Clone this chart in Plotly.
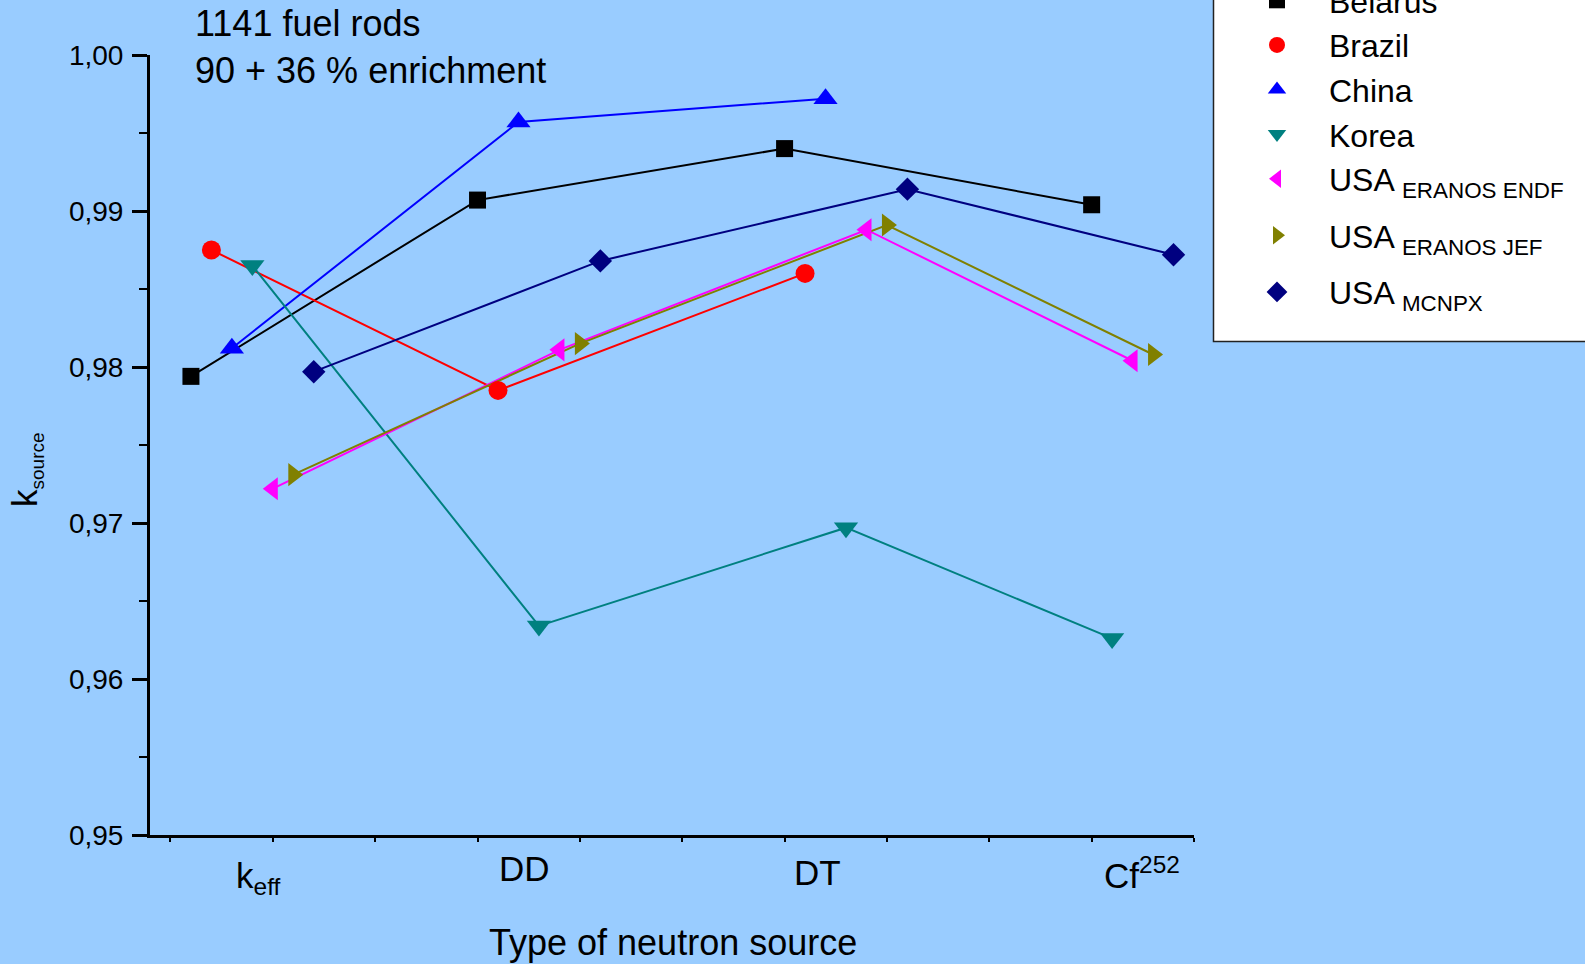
import plotly.graph_objects as go

# ---- data -------------------------------------------------------------
categories = ["keff", "DD", "DT", "Cf252"]
category_labels = ["k<sub>eff</sub>", "DD", "DT", "Cf<sup>252</sup>"]

series_names = [
    "Belarus",
    "Brazil",
    "China",
    "Korea",
    "USA <sub>ERANOS ENDF</sub>",
    "USA <sub>ERANOS JEF</sub>",
    "USA <sub>MCNPX</sub>",
]

belarus = [0.9794, 0.9907, 0.9940, 0.9904]
brazil = [0.9875, 0.9785, 0.9860, None]
china = [0.9812, 0.9957, 0.9972, None]
korea = [0.9865, 0.9634, 0.9697, 0.9626]
usa_eranos_endf = [0.9722, 0.9811, 0.9888, 0.9804]
usa_eranos_jef = [0.9731, 0.9815, 0.9891, 0.9808]
usa_mcnpx = [0.9797, 0.9868, 0.9914, 0.9872]

series_values = [belarus, brazil, china, korea,
                 usa_eranos_endf, usa_eranos_jef, usa_mcnpx]

y_ticks = [0.95, 0.96, 0.97, 0.98, 0.99, 1.00]

# ---- styling / layout ----------------------------------------------------
colors = ["#000000", "#FF0000", "#0000FF", "#008080",
          "#FF00FF", "#808000", "#000080"]
symbols = ["square", "circle", "triangle-up", "triangle-down",
           "triangle-left", "triangle-right", "diamond"]
sizes = [17, 19, 21, 21, 20, 20, 18]
legend_groups = ["a", "a", "a", "a", "a", "b", "c"]

group_start = [0.2, 3.0, 6.0, 9.0]   # x of the first point in each group
slot_step = 0.2                      # spacing between series inside a group
label_x = [0.86, 3.46, 6.32, 9.49]   # x of the category captions

FONT = "Liberation Sans, Arial, sans-serif"
BG = "#99CCFF"

W, H = 1585, 964
ML, MR, MT, MB = 150, 391, 55, 129
PW, PH = W - ML - MR, H - MT - MB


def px_x(px):
    return (px - ML) / PW


def px_y(px):
    return (H - MB - px) / PH


# x positions: series present in a category take consecutive slots
x_pos = [[None] * len(categories) for _ in series_values]
for c in range(len(categories)):
    slot = 0
    for s, vals in enumerate(series_values):
        if vals[c] is not None:
            x_pos[s][c] = group_start[c] + slot * slot_step
            slot += 1

fig = go.Figure()

for s, vals in enumerate(series_values):
    fig.add_trace(go.Scatter(
        x=x_pos[s], y=vals, mode="lines",
        line=dict(color=colors[s], width=2),
        showlegend=False, hoverinfo="skip",
    ))

for s, vals in enumerate(series_values):
    fig.add_trace(go.Scatter(
        x=x_pos[s], y=vals, mode="markers", name=series_names[s],
        legendgroup=legend_groups[s],
        marker=dict(symbol=symbols[s], size=sizes[s], color=colors[s],
                    line=dict(width=0)),
    ))

annotations = [
    dict(text="1141 fuel rods<br>90 + 36 % enrichment",
         xref="paper", yref="paper", x=px_x(193), y=px_y(47),
         xanchor="left", yanchor="middle", align="left",
         showarrow=False, font=dict(family=FONT, size=36, color="black")),
    dict(text="Type of neutron source",
         xref="paper", yref="paper", x=px_x(673), y=px_y(942),
         xanchor="center", yanchor="middle",
         showarrow=False, font=dict(family=FONT, size=36, color="black")),
    dict(text="k<sub><span style='font-size:19px'>source</span></sub>",
         xref="paper", yref="paper", x=px_x(26), y=px_y(470),
         xanchor="center", yanchor="middle", textangle=-90,
         showarrow=False, font=dict(family=FONT, size=35, color="black")),
]
label_y = [878, 868, 872, 873]
for lx, ly, txt in zip(label_x, label_y, category_labels):
    annotations.append(dict(
        text=txt, xref="x", yref="paper", x=lx, y=px_y(ly),
        xanchor="center", yanchor="middle", showarrow=False,
        font=dict(family=FONT, size=35, color="black")))

fig.update_layout(
    width=W, height=H,
    margin=dict(l=ML, r=MR, t=MT, b=MB, autoexpand=False),
    paper_bgcolor=BG, plot_bgcolor=BG,
    separators=", ",
    font=dict(family=FONT, color="black"),
    xaxis=dict(
        range=[-0.2, 10], showgrid=False, zeroline=False,
        showline=True, linecolor="black", linewidth=3,
        tickmode="array", tickvals=list(range(11)),
        ticks="outside", ticklen=4, tickwidth=1.5, tickcolor="black",
        showticklabels=False,
    ),
    yaxis=dict(
        range=[0.95, 1.00], showgrid=False, zeroline=False,
        showline=True, linecolor="black", linewidth=3,
        tickmode="array", tickvals=y_ticks, tickformat=".2f",
        ticks="outside", ticklen=15, tickwidth=2.5, tickcolor="black",
        tickfont=dict(family=FONT, size=28, color="black"),
        ticklabelstandoff=3,
        minor=dict(dtick=0.005, tick0=0.95, ticks="outside", ticklen=8,
                   tickwidth=2, tickcolor="black"),
    ),
    legend=dict(
        x=px_x(1225), y=px_y(-27), xanchor="left", yanchor="top",
        bgcolor="rgba(0,0,0,0)", borderwidth=0,
        font=dict(family=FONT, size=32, color="black"),
        itemwidth=94, tracegroupgap=12, traceorder="grouped",
    ),
    shapes=[dict(
        type="rect", xref="paper", yref="paper", layer="below",
        x0=px_x(1213.5), x1=px_x(1700), y0=px_y(341.6), y1=px_y(-20),
        fillcolor="white", line=dict(color="#222222", width=1.5),
    )],
    annotations=annotations,
)

fig.write_html("out.html")
